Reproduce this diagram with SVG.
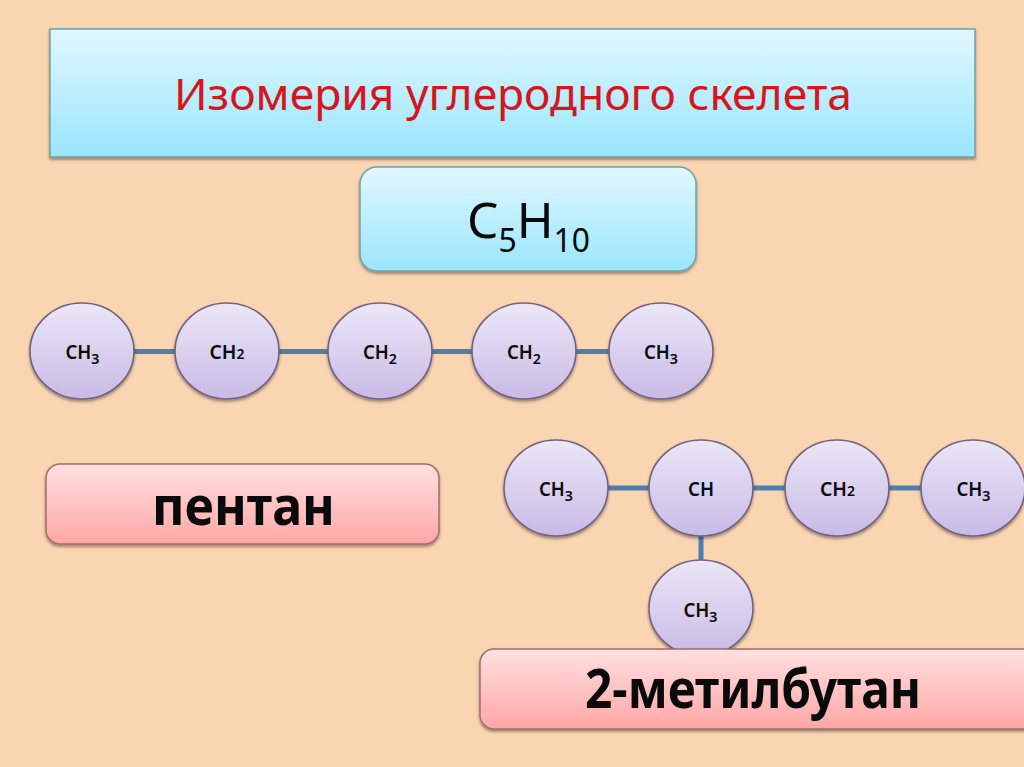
<svg xmlns="http://www.w3.org/2000/svg" width="1024" height="767" viewBox="0 0 1024 767">
<style>
text{font-family:"Noto Sans","Open Sans","Liberation Sans",sans-serif;fill:#0a0a0a}
.c{fill:url(#gc);stroke:#75607f;stroke-width:1.6;filter:url(#sh)}
.l{font-size:19.5px;font-weight:600;text-anchor:middle}
.s{font-size:15px}
.n{font-size:14px}
.b{stroke:#4f7fae;stroke-width:5;fill:none}
.h{font-size:53px;font-weight:700;text-anchor:middle}
</style>
<defs>
<linearGradient id="gc" x1="0" y1="0" x2="0" y2="1"><stop offset="0" stop-color="#ece7f7"/><stop offset="1" stop-color="#c8bae6"/></linearGradient>
<linearGradient id="gb" x1="0" y1="0" x2="0" y2="1"><stop offset="0" stop-color="#e0f7ff"/><stop offset="1" stop-color="#9ae6fc"/></linearGradient>
<linearGradient id="gr" x1="0" y1="0" x2="0" y2="1"><stop offset="0" stop-color="#ffe0e0"/><stop offset="1" stop-color="#ffa6a6"/></linearGradient>
<filter id="sh" x="-10%" y="-10%" width="120%" height="125%"><feDropShadow dx="0" dy="2" stdDeviation="1.5" flood-color="#000" flood-opacity=".4"/></filter>
</defs>
<rect width="1024" height="767" fill="#f9d5b2"/>
<g id="title"><rect x="50" y="29" width="925" height="128" fill="url(#gb)" stroke="#6fa3a5" stroke-width="1.5" filter="url(#sh)"/>
<text x="513" y="110" font-size="44" text-anchor="middle" style="fill:#d8141c" textLength="678" lengthAdjust="spacingAndGlyphs">Изомерия углеродного скелета</text></g>
<g id="formula"><rect x="360" y="167" width="336" height="104" rx="17" fill="url(#gb)" stroke="#6fa3a5" stroke-width="1.5" filter="url(#sh)"/>
<text x="467" y="238" font-size="50" textLength="123" lengthAdjust="spacingAndGlyphs">C<tspan font-size="32" dy="14">5</tspan><tspan dy="-14">H</tspan><tspan font-size="32" dy="14">10</tspan></text></g>
<g id="connectors">
<path class="b" d="M132 351.500H176M278 351.500H329M431 351.500H473M575 351.500H610M607 488H650M752 488H787M888 488H923M701 535V562"/>
</g>
<g id="n1"><ellipse class="c" cx="82" cy="351" rx="52" ry="48"/><text class="l" x="82.500" y="359" textLength="34" lengthAdjust="spacingAndGlyphs">CH<tspan class="s" dy="5">3</tspan></text></g>
<g id="n2"><ellipse class="c" cx="227" cy="351" rx="52" ry="48"/><text class="l" x="227" y="359" textLength="35" lengthAdjust="spacingAndGlyphs">CH<tspan class="n">2</tspan></text></g>
<g id="n3"><ellipse class="c" cx="380" cy="351" rx="52" ry="48"/><text class="l" x="380" y="359" textLength="34" lengthAdjust="spacingAndGlyphs">CH<tspan class="s" dy="5">2</tspan></text></g>
<g id="n4"><ellipse class="c" cx="524" cy="351" rx="52" ry="48"/><text class="l" x="524" y="359" textLength="34" lengthAdjust="spacingAndGlyphs">CH<tspan class="s" dy="5">2</tspan></text></g>
<g id="n5"><ellipse class="c" cx="661" cy="351" rx="52" ry="48"/><text class="l" x="661" y="359" textLength="34" lengthAdjust="spacingAndGlyphs">CH<tspan class="s" dy="5">3</tspan></text></g>
<g id="pentane"><rect x="46" y="464" width="393" height="80" rx="14" fill="url(#gr)" stroke="#a96a6a" stroke-width="1.5" filter="url(#sh)"/>
<text class="h" x="243.500" y="525" textLength="183" lengthAdjust="spacingAndGlyphs">пентан</text></g>
<g id="m1"><ellipse class="c" cx="556" cy="488" rx="52" ry="48"/><text class="l" x="556" y="496" textLength="34" lengthAdjust="spacingAndGlyphs">CH<tspan class="s" dy="5">3</tspan></text></g>
<g id="m2"><ellipse class="c" cx="701" cy="488" rx="52" ry="48"/><text class="l" x="701" y="496" textLength="26" lengthAdjust="spacingAndGlyphs">CH</text></g>
<g id="m3"><ellipse class="c" cx="837" cy="488" rx="52" ry="48"/><text class="l" x="837.500" y="496" textLength="35" lengthAdjust="spacingAndGlyphs">CH<tspan class="n">2</tspan></text></g>
<g id="m4"><ellipse class="c" cx="973" cy="488" rx="52" ry="48"/><text class="l" x="973.500" y="496" textLength="34" lengthAdjust="spacingAndGlyphs">CH<tspan class="s" dy="5">3</tspan></text></g>
<g id="m5"><ellipse class="c" cx="701" cy="608" rx="52" ry="48"/><text class="l" x="700.500" y="617" textLength="34" lengthAdjust="spacingAndGlyphs">CH<tspan class="s" dy="5">3</tspan></text></g>
<g id="methylbutane"><rect x="480" y="649" width="560" height="80" rx="14" fill="url(#gr)" stroke="#a96a6a" stroke-width="1.5" filter="url(#sh)"/>
<text class="h" x="753" y="708" textLength="336" lengthAdjust="spacingAndGlyphs">2-метилбутан</text></g>
</svg>
